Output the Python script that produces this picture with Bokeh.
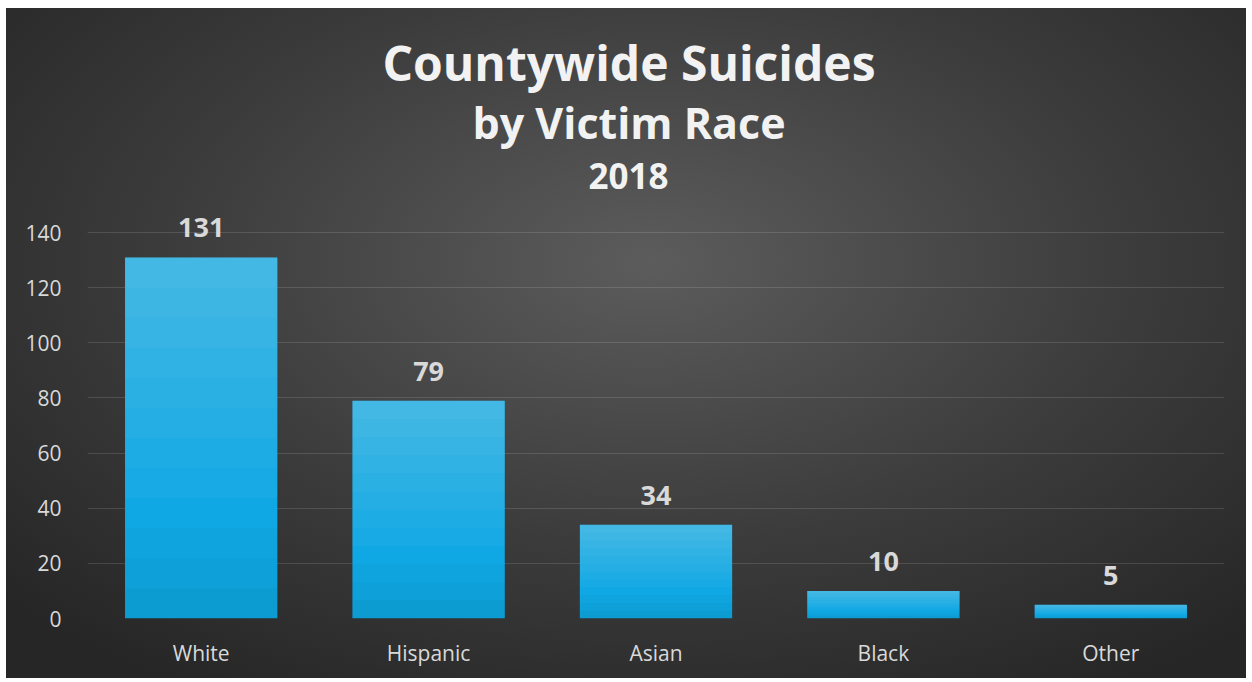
from bokeh.plotting import figure
from bokeh.models import ColumnDataSource, LabelSet, Range1d, FactorRange, Title
from bokeh.core.properties import value
from bokeh.embed import file_html
from bokeh.resources import INLINE

categories = ["White", "Hispanic", "Asian", "Black", "Other"]
counts = [131, 79, 34, 10, 5]
y_ticks = [0, 20, 40, 60, 80, 100, 120, 140]
title_lines = ["Countywide Suicides", "by Victim Race", "2018"]

FONT = "Open Sans"

src = ColumnDataSource(dict(cat=categories, n=counts, lbl=[str(v) for v in counts]))

p = figure(x_range=FactorRange(*categories, range_padding=0), y_range=Range1d(0, 156),
           width=1240, height=670, output_backend="svg", toolbar_location=None,
           min_border_left=81, min_border_right=22, min_border_top=180, min_border_bottom=60)
p.styles = {"margin-left": "6px", "margin-top": "8px",
            "background": "radial-gradient(ellipse 70% 75% at 52% 38%, #5c5c5c 0%, #3c3c3c 55%, #262626 100%)"}
p.border_fill_alpha = 0
p.background_fill_alpha = 0
p.outline_line_color = None

# bars with a soft vertical gradient (lighter towards the top of each bar)
p.vbar(x="cat", top="n", width=0.67, source=src, fill_color="#10a8e4", line_color=None)
for k in range(4, 12):
    frac = k / 12
    p.vbar(x=categories, bottom=[v * frac for v in counts], top=counts, width=0.67,
           fill_color="white", fill_alpha=0.03, line_color=None)
for k in range(1, 4):
    frac = k / 12
    p.vbar(x=categories, bottom=[0] * len(counts), top=[v * frac for v in counts], width=0.67,
           fill_color="black", fill_alpha=0.025, line_color=None)

labels = LabelSet(x="cat", y="n", text="lbl", source=src, text_align="center",
                  text_baseline="alphabetic", y_offset=20, text_font=value(FONT),
                  text_font_size="27px", text_font_style="bold", text_color="#d9d9d9")
p.add_layout(labels)

# title lines (added from the plot outward), left-aligned with offsets so they centre near x=629
sizes = {"Countywide Suicides": "48px", "by Victim Race": "43px", "2018": "35px"}
standoffs = {"Countywide Suicides": -26, "by Victim Race": 18, "2018": 0}
offsets = {"Countywide Suicides": 295, "by Victim Race": 385, "2018": 501}
for t in reversed(title_lines):
    p.add_layout(Title(text=t, align="left", offset=offsets[t], text_font=FONT,
                       text_font_size=sizes[t], text_font_style="bold",
                       text_color="#f2f2f2", standoff=standoffs[t]), "above")

p.yaxis.ticker = y_ticks
p.ygrid.grid_line_color = "#ffffff"
p.ygrid.grid_line_alpha = 0.13
p.xgrid.grid_line_color = None
for ax in (p.xaxis, p.yaxis):
    ax.axis_line_color = None
    ax.major_tick_line_color = None
    ax.minor_tick_line_color = None
    ax.major_label_text_font = FONT
    ax.major_label_text_font_size = "21px"
    ax.major_label_text_color = "#d9d9d9"
p.yaxis.major_label_standoff = 20
p.xaxis.major_label_standoff = 14

open("out.html", "w").write(file_html(p, INLINE))
